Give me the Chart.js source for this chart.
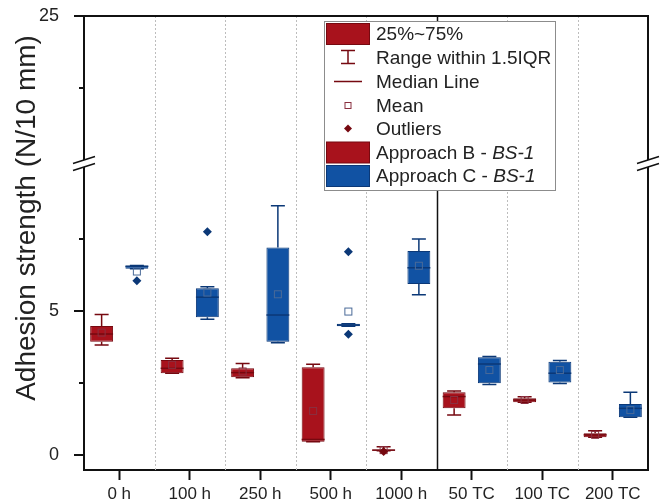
<!DOCTYPE html>
<html>
<head>
<meta charset="utf-8">
<script src="https://cdn.jsdelivr.net/npm/chart.js@4.4.0/dist/chart.umd.min.js"></script>
<style>
body { margin: 0; background: #fff; }
#wrap { width: 661px; height: 504px; }
</style>
</head>
<body>
<div id="wrap"><canvas id="myChart"></canvas></div>
<script>
var categories = ['0 h', '100 h', '250 h', '500 h', '1000 h', '50 TC', '100 TC', '200 TC'];

// Approach B - BS-1 (red)
var bQ1 = [3.93, 2.84, 2.70, 0.46, 0.15, 1.62, 1.83, 0.62];
var bQ3 = [4.48, 3.30, 3.01, 3.05, 0.19, 2.18, 1.97, 0.76];
var bMedian = [4.20, 3.01, 2.86, 0.54, 0.17, 2.03, 1.91, 0.70];
var bMean = [4.25, 3.13, 2.90, 1.53, 0.17, 1.91, 1.91, 0.70];
var bLow = [3.82, 2.84, 2.68, 0.46, 0.15, 1.39, 1.83, 0.62];
var bHigh = [4.88, 3.36, 3.18, 3.15, 0.29, 2.22, 2.02, 0.84];
var bOutliers = [[], [], [], [], [0.12], [], [], []];

// Approach C - BS-1 (blue)
var cQ1 = [6.47, 4.78, 3.93, 4.47, 5.94, 2.49, 2.52, 1.31];
var cQ3 = [6.58, 5.79, 7.20, 4.56, 7.08, 3.39, 3.24, 1.77];
var cMedian = [6.55, 5.48, 4.86, 4.51, 6.50, 3.16, 2.84, 1.62];
var cMean = [6.37, 5.64, 5.58, 4.98, 6.57, 2.95, 2.95, 1.56];
var cLow = [6.47, 4.71, 3.90, 4.47, 5.56, 2.45, 2.48, 1.31];
var cHigh = [6.58, 5.84, 8.65, 4.56, 7.50, 3.42, 3.28, 2.18];
var cOutliers = [[6.05], [7.75], [], [7.06, 4.19], [], [], [], []];

// broken y axis: 0..10.07 then 19.83..25
var breakLow = 10.07;
var breakHigh = 19.83;
var yTickValues = [0, 2.5, 5, 7.5, 22.5, 25];
var yTickLabels = ['0', '', '5', '', '', '25'];
var yTickMajor = [true, false, true, false, false, true];

var FONT = "'Liberation Sans', Arial, sans-serif";
var RED = '#a8121c', RED_DARK = '#760910', RED_MEAN = '#8a3040';
var BLUE = '#1152a3', BLUE_DARK = '#0b3877', BLUE_MEAN = '#4a6a98';

function toAxis(v) {
    return v > breakLow ? v - (breakHigh - breakLow) : v;
}

function pairs(lo, hi) {
    var out = [];
    for (var i = 0; i < lo.length; i++) out.push([lo[i], hi[i]]);
    return out;
}

var series = [
    { median: bMedian, mean: bMean, low: bLow, high: bHigh, q1: bQ1, q3: bQ3, outliers: bOutliers, dark: RED_DARK, meanColor: RED_MEAN },
    { median: cMedian, mean: cMean, low: cLow, high: cHigh, q1: cQ1, q3: cQ3, outliers: cOutliers, dark: BLUE_DARK, meanColor: BLUE_MEAN }
];

function diamond(ctx, x, y, r) {
    ctx.beginPath();
    ctx.moveTo(x, y - r);
    ctx.lineTo(x + r, y);
    ctx.lineTo(x, y + r);
    ctx.lineTo(x - r, y);
    ctx.closePath();
    ctx.fill();
}

function axisBreak(ctx, x, y) {
    ctx.save();
    ctx.fillStyle = '#fff';
    ctx.beginPath();
    ctx.moveTo(x - 11, y + 3.5);
    ctx.lineTo(x + 11, y - 3.5);
    ctx.lineTo(x + 11, y + 3.5);
    ctx.lineTo(x - 11, y + 10.5);
    ctx.closePath();
    ctx.fill();
    ctx.strokeStyle = '#111';
    ctx.lineWidth = 1.5;
    ctx.beginPath();
    ctx.moveTo(x - 11, y + 3.5); ctx.lineTo(x + 11, y - 3.5);
    ctx.moveTo(x - 11, y + 10.5); ctx.lineTo(x + 11, y + 3.5);
    ctx.stroke();
    ctx.restore();
}

var boxPlugin = {
    id: 'boxExtras',
    beforeDatasetsDraw: function (chart) {
        var ctx = chart.ctx, area = chart.chartArea, xs = chart.scales.x;
        ctx.save();
        for (var i = 1; i < categories.length; i++) {
            var px = Math.round((xs.getPixelForValue(i - 1) + xs.getPixelForValue(i)) / 2) + 0.5;
            ctx.beginPath();
            if (i === 5) {
                ctx.setLineDash([]);
                ctx.strokeStyle = '#111';
                ctx.lineWidth = 1.5;
            } else {
                ctx.setLineDash([2, 2]);
                ctx.strokeStyle = '#bdbdbd';
                ctx.lineWidth = 1;
            }
            ctx.moveTo(px, area.top);
            ctx.lineTo(px, area.bottom);
            ctx.stroke();
        }
        ctx.restore();

        // whiskers
        var ys = chart.scales.y;
        ctx.save();
        series.forEach(function (s, d) {
            var meta = chart.getDatasetMeta(d);
            ctx.strokeStyle = s.dark;
            ctx.lineWidth = 1.5;
            meta.data.forEach(function (bar, i) {
                var x = bar.x;
                var yHi = ys.getPixelForValue(s.high[i]), yQ3 = ys.getPixelForValue(s.q3[i]);
                var yLo = ys.getPixelForValue(s.low[i]), yQ1 = ys.getPixelForValue(s.q1[i]);
                ctx.beginPath();
                ctx.moveTo(x, yQ3); ctx.lineTo(x, yHi);
                ctx.moveTo(x - 7, yHi); ctx.lineTo(x + 7, yHi);
                ctx.moveTo(x, yQ1); ctx.lineTo(x, yLo);
                ctx.moveTo(x - 7, yLo); ctx.lineTo(x + 7, yLo);
                ctx.stroke();
            });
        });
        ctx.restore();
    },
    afterDatasetsDraw: function (chart) {
        var ctx = chart.ctx, ys = chart.scales.y;
        ctx.save();
        series.forEach(function (s, d) {
            var meta = chart.getDatasetMeta(d);
            meta.data.forEach(function (bar, i) {
                var x = bar.x, half = bar.width / 2;
                ctx.strokeStyle = s.dark;
                ctx.lineWidth = 1.5;
                var ym = ys.getPixelForValue(s.median[i]);
                ctx.beginPath();
                ctx.moveTo(x - half, ym); ctx.lineTo(x + half, ym);
                ctx.stroke();
                var ya = ys.getPixelForValue(s.mean[i]);
                ctx.strokeStyle = s.meanColor;
                ctx.lineWidth = 1;
                ctx.strokeRect(x - 3.5, ya - 3.5, 7, 7);
                ctx.fillStyle = s.dark;
                s.outliers[i].forEach(function (v) {
                    diamond(ctx, x, ys.getPixelForValue(v), 4.5);
                });
            });
        });
        ctx.restore();
    },
    afterDraw: function (chart) {
        var ctx = chart.ctx, area = chart.chartArea, ys = chart.scales.y;
        ctx.save();
        ctx.strokeStyle = '#111';
        ctx.lineWidth = 2;
        // top and right frame
        ctx.beginPath();
        ctx.moveTo(area.left, area.top);
        ctx.lineTo(area.right, area.top);
        ctx.lineTo(area.right, area.bottom);
        ctx.stroke();
        // y ticks
        ctx.beginPath();
        yTickValues.forEach(function (v, i) {
            var py = ys.getPixelForValue(toAxis(v));
            var len = yTickMajor[i] ? 10 : 5;
            ctx.moveTo(area.left - len, py);
            ctx.lineTo(area.left, py);
        });
        ctx.stroke();
        ctx.restore();

        var yb = ys.getPixelForValue(breakLow) - 5;
        axisBreak(ctx, area.left, yb);
        axisBreak(ctx, area.right, yb);

        // y title
        ctx.save();
        ctx.translate(27, 218);
        ctx.rotate(-Math.PI / 2);
        ctx.fillStyle = '#222';
        ctx.font = '28px ' + FONT;
        ctx.textAlign = 'center';
        ctx.textBaseline = 'middle';
        ctx.fillText('Adhesion strength (N/10 mm)', 0, 0);
        ctx.restore();

        drawLegend(ctx);
    }
};

function drawLegend(ctx) {
    var left = 324.5, top = 21.5, right = 555.5, bottom = 190.5;
    var rows = [34, 57.5, 81.5, 105.5, 128.5, 152.5, 176];
    var sx = 348;
    ctx.save();
    ctx.fillStyle = '#fff';
    ctx.fillRect(left, top, right - left, bottom - top);
    ctx.strokeStyle = '#8c8c8c';
    ctx.lineWidth = 1;
    ctx.strokeRect(left, top, right - left, bottom - top);

    function rect(yc, fill, border) {
        ctx.fillStyle = fill;
        ctx.fillRect(326.5, yc - 10.5, 43, 21);
        ctx.strokeStyle = border;
        ctx.lineWidth = 1;
        ctx.strokeRect(326.5, yc - 10.5, 43, 21);
    }
    rect(rows[0], RED, RED_DARK);
    ctx.strokeStyle = RED_DARK;
    ctx.lineWidth = 1.5;
    ctx.beginPath();
    ctx.moveTo(sx, rows[1] - 7); ctx.lineTo(sx, rows[1] + 6);
    ctx.moveTo(sx - 7, rows[1] - 7); ctx.lineTo(sx + 7, rows[1] - 7);
    ctx.moveTo(sx - 7, rows[1] + 6); ctx.lineTo(sx + 7, rows[1] + 6);
    ctx.moveTo(sx - 14, rows[2]); ctx.lineTo(sx + 14, rows[2]);
    ctx.stroke();
    ctx.strokeStyle = RED_MEAN;
    ctx.lineWidth = 1;
    ctx.strokeRect(sx - 3, rows[3] - 3, 6, 6);
    ctx.fillStyle = RED_DARK;
    diamond(ctx, sx, rows[4], 4);
    rect(rows[5], RED, RED_DARK);
    rect(rows[6], BLUE, BLUE_DARK);

    var labels = ['25%~75%', 'Range within 1.5IQR', 'Median Line', 'Mean', 'Outliers', 'Approach B - ', 'Approach C - '];
    ctx.fillStyle = '#222';
    ctx.textBaseline = 'middle';
    ctx.textAlign = 'left';
    labels.forEach(function (t, i) {
        ctx.font = '19px ' + FONT;
        ctx.fillText(t, 376, rows[i] + 1);
        if (i >= 5) {
            var w = ctx.measureText(t).width;
            ctx.font = 'italic 19px ' + FONT;
            ctx.fillText('BS-1', 376 + w, rows[i] + 1);
        }
    });
    ctx.restore();
}

function createChart() {
    var ctx = document.getElementById('myChart').getContext('2d');
    new Chart(ctx, {
        type: 'bar',
        data: {
            labels: categories,
            datasets: [
                {
                    label: 'Approach B - BS-1',
                    data: pairs(bQ1, bQ3),
                    backgroundColor: RED,
                    borderColor: RED_DARK,
                    borderWidth: 1,
                    borderSkipped: false
                },
                {
                    label: 'Approach C - BS-1',
                    data: pairs(cQ1, cQ3),
                    backgroundColor: BLUE,
                    borderColor: BLUE_DARK,
                    borderWidth: 1,
                    borderSkipped: false
                }
            ]
        },
        options: {
            responsive: true,
            maintainAspectRatio: false,
            animation: false,
            layout: { padding: { top: 16, right: 13, left: 0, bottom: 0 } },
            categoryPercentage: 1.0,
            barPercentage: 0.65,
            plugins: {
                legend: { display: false },
                tooltip: { enabled: false }
            },
            scales: {
                x: {
                    offset: true,
                    grid: { offset: false, drawOnChartArea: false, tickLength: 10, tickWidth: 2, tickColor: '#111' },
                    border: { color: '#111', width: 2 },
                    ticks: { color: '#222', font: { family: FONT, size: 17 }, padding: 4, maxRotation: 0 },
                    afterFit: function (scale) {
                        scale.height = 34;
                        scale.paddingLeft = 0;
                        scale.paddingRight = 0;
                    }
                },
                y: {
                    min: -0.52,
                    max: toAxis(25),
                    grid: { display: false },
                    border: { color: '#111', width: 2 },
                    afterBuildTicks: function (scale) {
                        scale.ticks = yTickValues.map(function (v) { return { value: toAxis(v) }; });
                    },
                    ticks: {
                        color: '#222',
                        font: { family: FONT, size: 18 },
                        padding: 17,
                        autoSkip: false,
                        callback: function (value, index) { return yTickLabels[index]; }
                    },
                    afterFit: function (scale) {
                        scale.width = 84;
                        scale.paddingTop = 0;
                        scale.paddingBottom = 0;
                    }
                }
            }
        },
        plugins: [boxPlugin]
    });
}
createChart();
</script>
</body>
</html>
